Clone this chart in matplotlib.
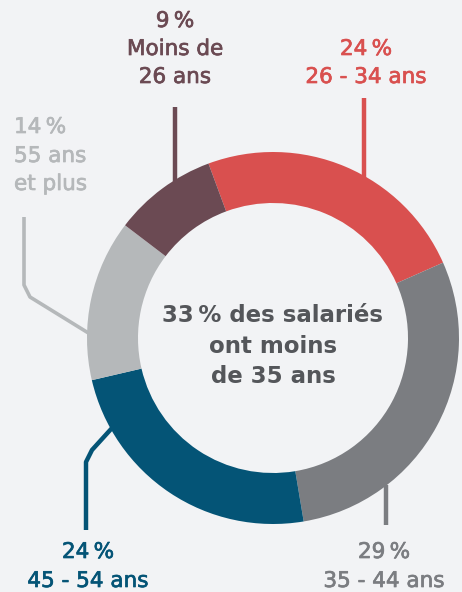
import numpy as np
import matplotlib.pyplot as plt
import matplotlib.patheffects as pe

# donut data (clockwise from the top)
categories = ["26 - 34 ans", "35 - 44 ans", "45 - 54 ans", "55 ans\net plus", "Moins de\n26 ans"]
values = [24, 29, 24, 14, 9]
colors = ["#D9504F", "#7B7D81", "#045476", "#B5B8BA", "#6B4A53"]
center_text = ["33\u2009% des salariés", "ont moins", "de 35 ans"]

W, H = 462, 592
bg = "#F2F3F5"

fig = plt.figure(figsize=(W / 100, H / 100), dpi=100, facecolor=bg)
ax = fig.add_axes([0, 0, 1, 1])
ax.set_facecolor(bg)

def Y(y):
    # pixel row -> data y
    return H - y

cx, cy, R = 273, 338, 186
ax.pie(values, colors=colors, startangle=110.3, counterclock=False,
       center=(cx, Y(cy)), radius=R, frame=True,
       wedgeprops=dict(width=51, linewidth=0))
ax.set_xlim(0, W)
ax.set_ylim(0, H)
ax.set_aspect("equal")
ax.axis("off")

# center text
for txt, yb in zip(center_text, [322, 353, 383]):
    ax.text(cx, Y(yb), txt, ha="center", va="baseline", fontsize=16.5,
            fontweight="bold", color="#54565A")

# leader lines (pixel coords)
lw = 3.2
ax.plot([175, 175], [Y(107), Y(182)], color=colors[4], lw=lw, solid_capstyle="butt")
ax.plot([364, 364], [Y(98), Y(178)], color=colors[0], lw=lw, solid_capstyle="butt")
ax.plot([386, 386], [Y(485), Y(525)], color=colors[1], lw=lw, solid_capstyle="butt")
ax.plot([24, 24, 30, 90], [Y(217), Y(285), Y(297), Y(334)], color=colors[3], lw=2.6,
        solid_capstyle="butt", solid_joinstyle="round")
ax.plot([86, 86, 92, 112], [Y(530), Y(462), Y(450), Y(428)], color=colors[2], lw=lw,
        solid_capstyle="butt", solid_joinstyle="round")

fs = 15.5
def label(x, baselines, lines, color, ha="center"):
    for t, yb in zip(lines, baselines):
        ax.text(x, Y(yb), t, ha=ha, va="baseline", fontsize=fs, color=color,
                path_effects=[pe.withStroke(linewidth=0.5, foreground=color)])

pct = [f"{v}\u2009%" for v in values]
label(366, [55, 83], [pct[0]] + categories[0].split("\n"), colors[0])
label(384, [558, 587], [pct[1]] + categories[1].split("\n"), colors[1])
label(88, [558, 587], [pct[2]] + categories[2].split("\n"), colors[2])
label(14, [133, 162, 190], [pct[3]] + categories[3].split("\n"), colors[3], ha="left")
label(175, [27, 55, 83], [pct[4]] + categories[4].split("\n"), colors[4])

fig.savefig("out.png", dpi=100, facecolor=bg)
